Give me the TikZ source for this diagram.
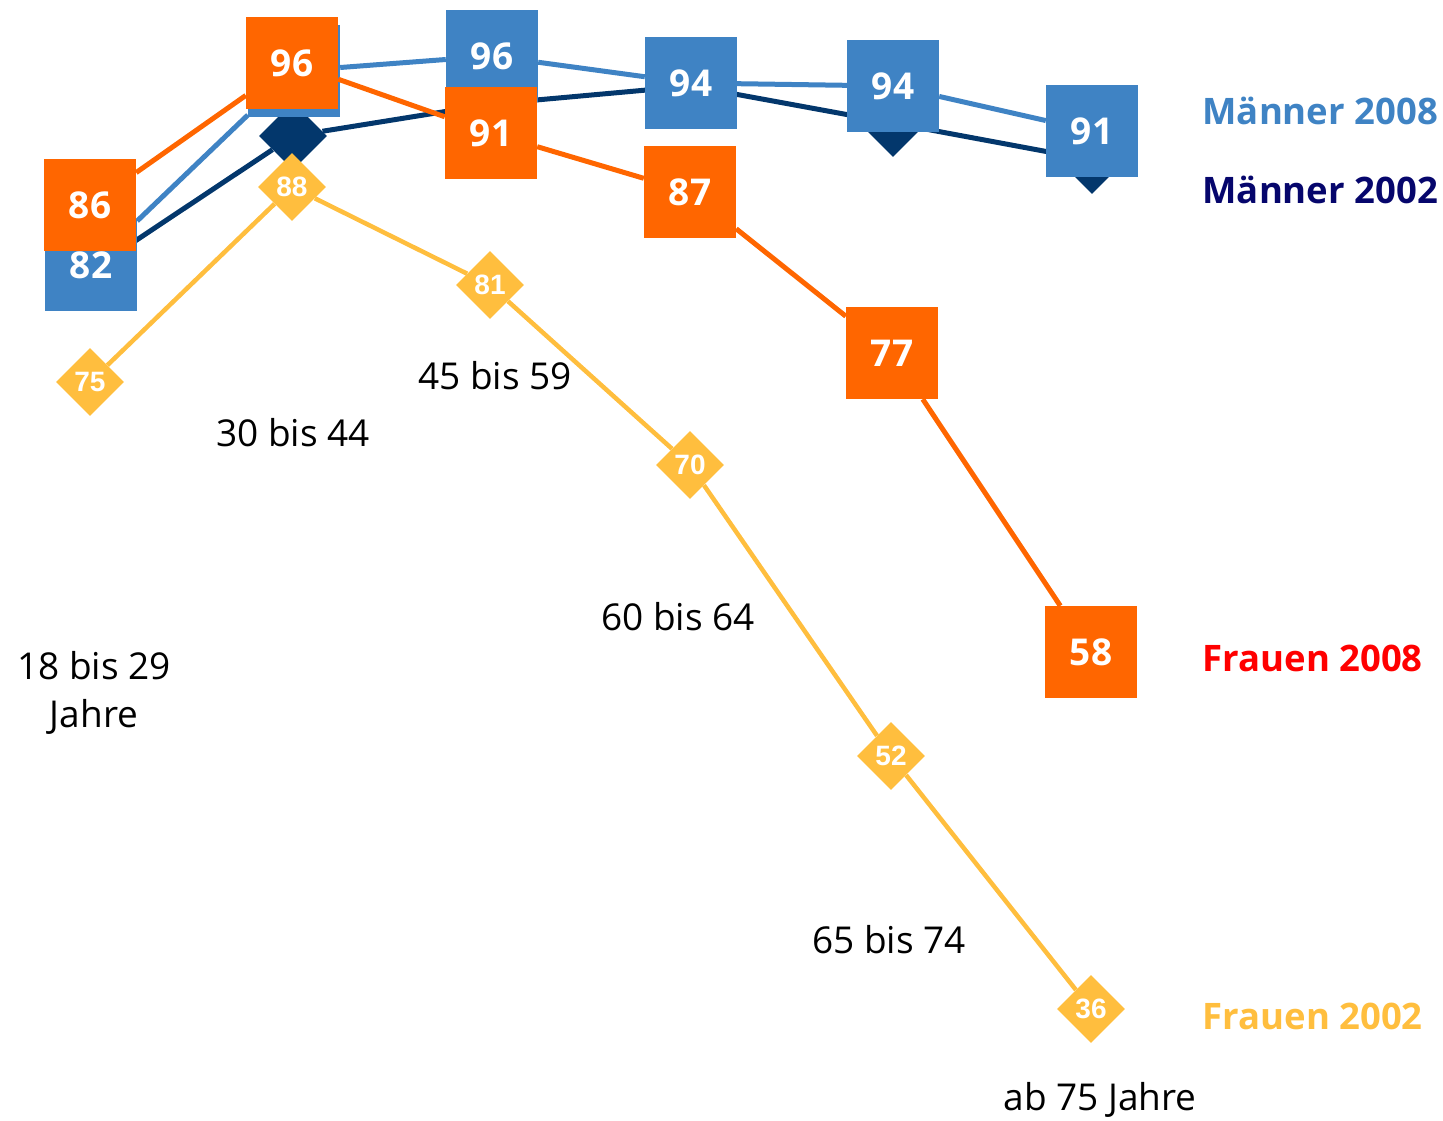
\documentclass[tikz,border=0pt]{standalone}
\usepackage{fontspec}
\setmainfont{Open Sans}
\newfontfamily\diafont{Liberation Sans}
\usetikzlibrary{shapes.geometric}
\definecolor{mblue}{RGB}{63,131,196}
\definecolor{mnavy}{RGB}{3,55,108}
\definecolor{forange}{RGB}{255,102,0}
\definecolor{fyellow}{RGB}{255,190,62}
\definecolor{legnavy}{RGB}{6,6,108}
\definecolor{legred}{RGB}{255,0,0}
\begin{document}
\begin{tikzpicture}[x=1pt,y=-1pt,
  sq/.style={rectangle,inner sep=0pt,minimum size=92pt,text=white,font=\fontsize{37}{40}\selectfont\bfseries},
  bsq/.style={sq,fill=mblue},
  osq/.style={sq,fill=forange},
  ndia/.style={diamond,inner sep=0pt,minimum width=68pt,minimum height=68pt,fill=mnavy},
  ydia/.style={diamond,inner sep=0pt,minimum width=68pt,minimum height=68pt,fill=fyellow,text=white,font=\diafont\fontsize{28}{30}\selectfont\bfseries},
  bline/.style={line width=5pt,mblue},
  nline/.style={line width=5pt,mnavy},
  oline/.style={line width=5pt,forange},
  yline/.style={line width=4.5pt,fyellow},
  age/.style={font=\fontsize{37}{48}\selectfont,text=black,align=center},
  leg/.style={anchor=west,font=\fontsize{36.5}{40}\selectfont\bfseries}]
\useasboundingbox (0,0) rectangle (1443,1120);
% Maenner 2002 (navy)
\node[ndia] (n1) at (90,271) {};
\node[ndia] (n2) at (293,136) {};
\node[ndia] (n3) at (492,104) {};
\node[ndia] (n4) at (691,86) {};
\node[ndia] (n5) at (893,123) {};
\node[ndia] (n6) at (1092,160) {};
\draw[nline] (n1) -- (n2) -- (n3) -- (n4) -- (n5) -- (n6);
% Maenner 2008 (blue)
\node[bsq] (b1) at (91,265) {82};
\node[bsq] (b2) at (294,71) {};
\node[bsq] (b3) at (492,56) {96};
\node[bsq] (b4) at (691,83) {94};
\node[bsq] (b5) at (893,86) {94};
\node[bsq] (b6) at (1092,131) {91};
\draw[bline] (b1) -- (b2) -- (b3) -- (b4) -- (b5) -- (b6);
% Frauen 2008 (orange)
\node[osq] (o1) at (90,205) {86};
\node[osq] (o2) at (292,63) {96};
\node[osq] (o3) at (491,133) {91};
\node[osq] (o4) at (690,192) {87};
\node[osq] (o5) at (892,353) {77};
\node[osq] (o6) at (1091,652) {58};
\draw[oline] (o1) -- (o2) -- (o3) -- (o4) -- (o5) -- (o6);
% Frauen 2002 (yellow)
\node[ydia] (y1) at (90,382) {75};
\node[ydia] (y2) at (292,187) {88};
\node[ydia] (y3) at (490,285) {81};
\node[ydia] (y4) at (690,465) {70};
\node[ydia] (y5) at (891,756) {52};
\node[ydia] (y6) at (1091,1009) {36};
\draw[yline] (y1) -- (y2) -- (y3) -- (y4) -- (y5) -- (y6);
% age labels
\node[age] (a1) at (94,693) {18 bis 29\\Jahre};
\node[age] (a2) at (293,433) {30 bis 44};
\node[age] (a3) at (495,376) {45 bis 59};
\node[age] (a4) at (678,617) {60 bis 64};
\node[age] (a5) at (889,940) {65 bis 74};
\node[age] (a6) at (1100,1100) {ab 75 Jahre};
% legend
\node[leg,text=mblue] (l1) at (1199,111) {Männer 2008};
\node[leg,text=legnavy] (l2) at (1199,190) {Männer 2002};
\node[leg,text=legred] (l3) at (1199,658) {Frauen 2008};
\node[leg,text=fyellow] (l4) at (1199,1016) {Frauen 2002};
\end{tikzpicture}
\end{document}
